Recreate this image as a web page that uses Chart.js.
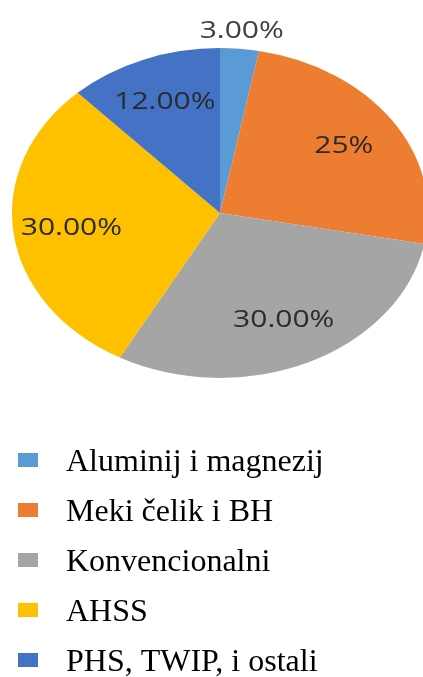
<!DOCTYPE html>
<html lang="en">
<head>
  <meta charset="UTF-8">
  <title>Materijali</title>
  <style>
    body { margin: 0; background: #fff; }
    canvas { display: block; }
  </style>
  <script src="https://cdn.jsdelivr.net/npm/chart.js"></script>
</head>
<body>
  <canvas id="pie" width="423" height="677"></canvas>

  <script>
    // chart data
    const categories = ['Aluminij i magnezij', 'Meki čelik i BH', 'Konvencionalni', 'AHSS', 'PHS, TWIP, i ostali'];
    const shares = [3, 25, 30, 30, 12];
    const shareLabels = ['3.00%', '25%', '30.00%', '30.00%', '12.00%'];
    const colors = ['#5B9BD5', '#ED7D31', '#A5A5A5', '#FFC000', '#4472C4'];

    // the pie in the picture is an ellipse, so squash it vertically
    const SQUASH = 0.793;

    const ellipsePie = {
      id: 'ellipsePie',
      beforeDatasetsDraw(chart) {
        const arc = chart.getDatasetMeta(0).data[0];
        const ctx = chart.ctx;
        ctx.save();
        ctx.translate(arc.x, arc.y);
        ctx.scale(1, SQUASH);
        ctx.translate(-arc.x, -arc.y);
      },
      afterDatasetsDraw(chart) {
        const ctx = chart.ctx;
        // data labels, still inside the squashed transform
        ctx.font = '30px "Open Sans"';
        ctx.textAlign = 'center';
        ctx.textBaseline = 'middle';
        chart.getDatasetMeta(0).data.forEach((arc, i) => {
          const a = (arc.startAngle + arc.endAngle) / 2;
          const outside = shares[i] < 5;
          const r = arc.outerRadius * (outside ? 1.11 : 0.72);
          ctx.fillStyle = outside ? '#404040' : '#2b2b2b';
          ctx.fillText(shareLabels[i], arc.x + Math.cos(a) * r, arc.y + Math.sin(a) * r);
        });
        ctx.restore();
      }
    };

    // legend as a left aligned column under the pie
    const columnLegend = {
      id: 'columnLegend',
      afterDraw(chart) {
        const ctx = chart.ctx;
        ctx.save();
        ctx.font = '32px "Liberation Serif"';
        ctx.textAlign = 'left';
        ctx.textBaseline = 'alphabetic';
        chart.data.labels.forEach((lbl, i) => {
          const base = 471 + i * 50;
          ctx.fillStyle = chart.data.datasets[0].backgroundColor[i];
          ctx.fillRect(18, base - 18, 20, 14);
          ctx.fillStyle = '#000';
          ctx.fillText(lbl, 66, base);
        });
        ctx.restore();
      }
    };

    new Chart(document.getElementById('pie'), {
      type: 'pie',
      data: {
        labels: categories,
        datasets: [{
          data: shares,
          backgroundColor: colors,
          borderWidth: 0,
          radius: 208
        }]
      },
      options: {
        responsive: false,
        animation: false,
        layout: { padding: { left: 17, right: 0, top: 0, bottom: 251 } },
        plugins: {
          legend: { display: false },
          tooltip: { enabled: false }
        }
      },
      plugins: [ellipsePie, columnLegend]
    });
  </script>
</body>
</html>
